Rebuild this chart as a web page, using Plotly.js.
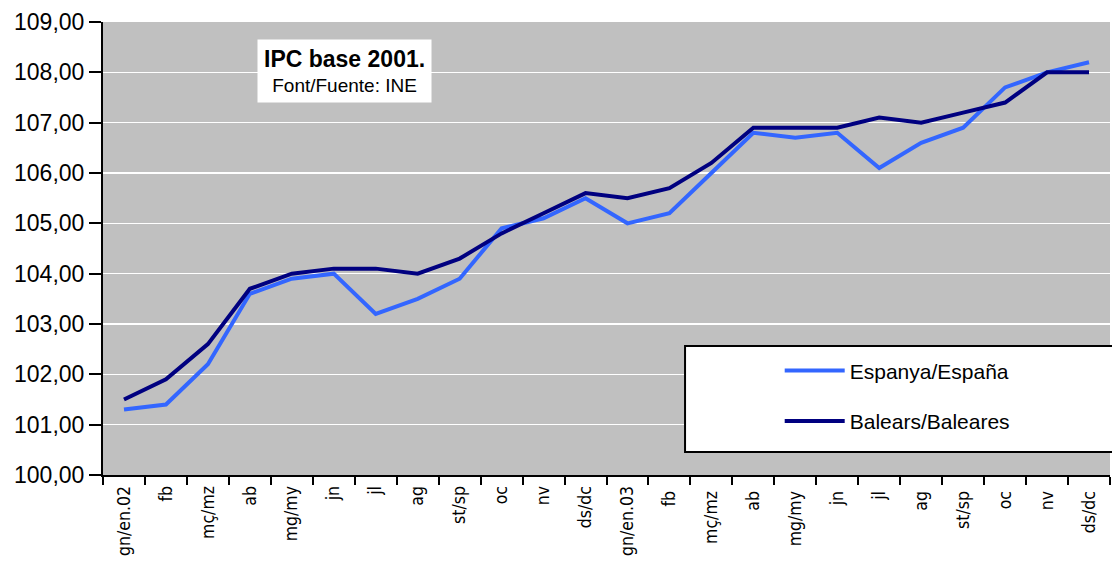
<!DOCTYPE html>
<html>
<head>
<meta charset="utf-8">
<script src="https://cdn.plot.ly/plotly-3.0.1.min.js"></script>
<style>html,body{margin:0;padding:0;background:#fff;}#chart{width:1112px;height:561px;}</style>
</head>
<body>
<div id="chart"></div>
<script>
const months = ["gn/en.02","fb","mç/mz","ab","mg/my","jn","jl","ag","st/sp","oc","nv","ds/dc",
                "gn/en.03","fb ","mç/mz ","ab ","mg/my ","jn ","jl ","ag ","st/sp ","oc ","nv ","ds/dc "];
const espanya = [101.3,101.4,102.2,103.6,103.9,104.0,103.2,103.5,103.9,104.9,105.1,105.5,
                 105.0,105.2,106.0,106.8,106.7,106.8,106.1,106.6,106.9,107.7,108.0,108.2];
const balears = [101.5,101.9,102.6,103.7,104.0,104.1,104.1,104.0,104.3,104.8,105.2,105.6,
                 105.5,105.7,106.2,106.9,106.9,106.9,107.1,107.0,107.2,107.4,108.0,108.0];
const seriesNames = ["Espanya/España","Balears/Baleares"];

const traces = [
  {x: months, y: espanya, name: seriesNames[0], type: 'scatter', mode: 'lines',
   line: {color: '#3366FF', width: 4}, legendgroup: 'a'},
  {x: months, y: balears, name: seriesNames[1], type: 'scatter', mode: 'lines',
   line: {color: '#000080', width: 4}, legendgroup: 'b'}
];

const layout = {
  width: 1112, height: 561,
  margin: {l: 103, r: 2, t: 22, b: 86},
  paper_bgcolor: '#ffffff',
  plot_bgcolor: '#C0C0C0',
  separators: ',.',
  font: {family: 'Liberation Sans, Arial, sans-serif', color: '#000'},
  xaxis: {
    type: 'category',
    tickson: 'boundaries',
    ticks: 'outside', ticklen: 8, tickwidth: 2, tickcolor: '#000',
    showline: true, linecolor: '#000', linewidth: 2,
    showgrid: false,
    tickangle: -90,
    ticklabelstandoff: 2,
    tickfont: {family: 'DejaVu Sans Condensed, DejaVu Sans, sans-serif', size: 17.5, color: '#000'},
    range: [-0.5, 23.5]
  },
  yaxis: {
    range: [100, 109],
    dtick: 1,
    tickformat: '.2f',
    ticks: 'outside', ticklen: 12, tickwidth: 2, tickcolor: '#000',
    showline: true, linecolor: '#000', linewidth: 2,
    gridcolor: '#ffffff', gridwidth: 1.5,
    zeroline: false,
    tickfont: {size: 23, color: '#000'}
  },
  showlegend: true,
  legend: {
    x: 0.672, y: 0.275, xanchor: 'left', yanchor: 'top',
    bgcolor: 'rgba(0,0,0,0)', borderwidth: 0,
    tracegroupgap: 20,
    itemwidth: 60,
    font: {size: 21, color: '#000'}
  },
  shapes: [
    {type: 'rect', xref: 'paper', yref: 'paper', x0: 0.578, x1: 1.003, y0: 0.051, y1: 0.285,
     fillcolor: '#ffffff', line: {color: '#000', width: 2}, layer: 'above'}
  ],
  annotations: [
    {xref: 'paper', yref: 'paper', x: 0.240, y: 0.892, xanchor: 'center', yanchor: 'middle',
     text: '<b><span style="font-size:23px">IPC base 2001.</span></b><br><span style="font-size:19px">Font/Fuente: INE</span>',
     showarrow: false, bgcolor: '#ffffff', borderpad: 6, font: {size: 19, color: '#000'}}
  ]
};

Plotly.newPlot('chart', traces, layout, {displayModeBar: false, staticPlot: true});
</script>
</body>
</html>
